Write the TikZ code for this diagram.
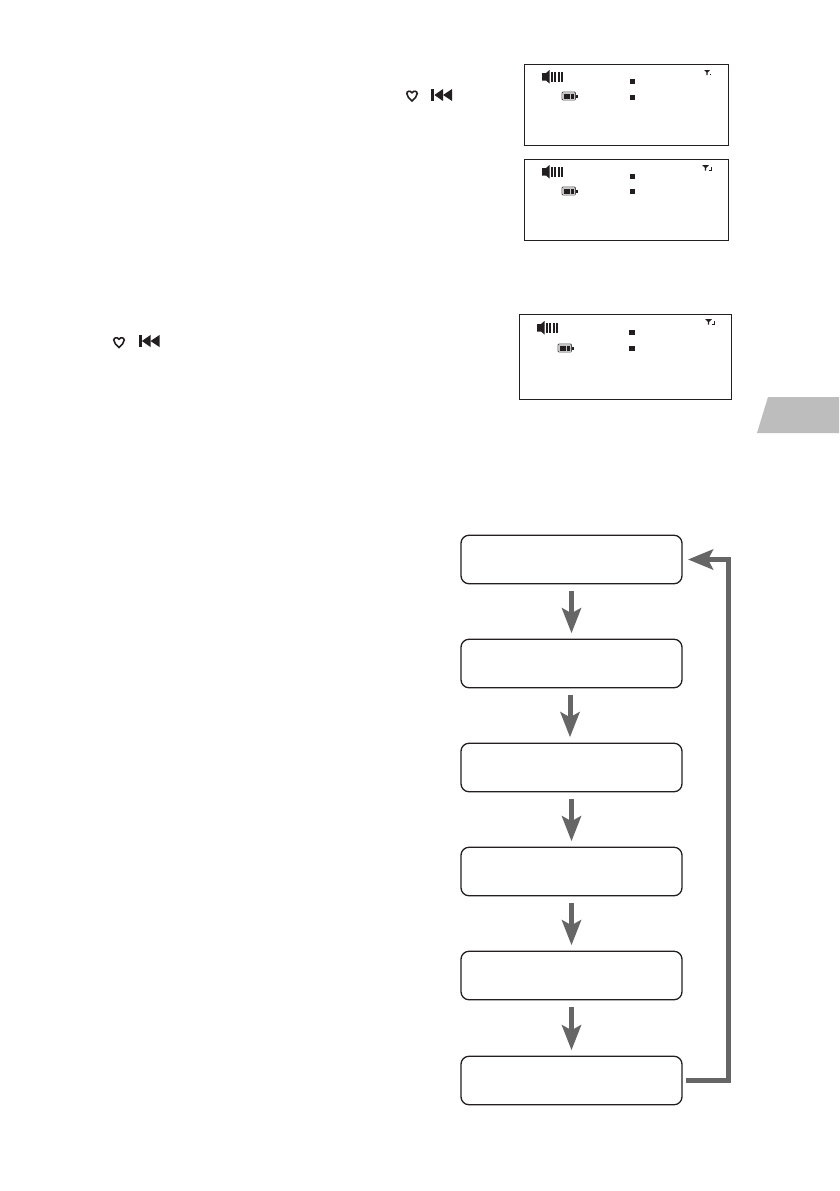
\documentclass[tikz,border=0pt]{standalone}
\usetikzlibrary{arrows.meta}
\definecolor{ink}{HTML}{231F20}
\definecolor{arrowgrey}{HTML}{666666}
\definecolor{tabgrey}{HTML}{BDBDBD}
\tikzset{
  screen/.style={draw=ink,line width=1.2pt,fill=white,inner sep=0pt,minimum width=#1},
  flowbox/.style={draw=ink,line width=1.3pt,rounded corners=8pt,fill=white,inner sep=0pt,outer sep=0pt,minimum width=221pt,minimum height=48.5pt},
  flowarrow/.style={draw=arrowgrey,line width=5pt,-{Stealth[length=25pt,width=19pt,inset=5pt]},shorten <=7pt,shorten >=6pt},
  returnarrow/.style={draw=arrowgrey,line width=5pt,-{Stealth[length=25pt,width=20pt,inset=5pt]},shorten <=4pt,shorten >=6pt},
  lcdsquare/.style={fill=ink,draw=none,inner sep=0pt,outer sep=0pt,minimum size=5.4pt},
  pics/speaker/.style={code={
    \fill[ink] (0,3) -- (4,3) -- (7.5,0) -- (7.5,13.5) -- (4,10.5) -- (0,10.5) -- cycle;
    \foreach \bx in {9,12.3,15.6,18.9}{\fill[ink] (\bx,1.5) rectangle ++(2,10.5);}
  }},
  pics/battery/.style={code={
    \draw[ink!80,line width=.9pt,rounded corners=1pt] (0,0) rectangle (13.5,8);
    \fill[ink!25] (.5,.5) rectangle (13,7.5);
    \foreach \bx in {1.6,5.2,8.8}{\fill[ink] (\bx,1.5) rectangle ++(3,5);}
    \fill[ink] (13.5,2.5) rectangle (16,5.5);
  }},
  pics/antenna/.style={code={
    \fill[ink] (0,0) -- (7,0) -- (4.2,2.8) -- (4.2,5.5) -- (2.8,5.5) -- (2.8,2.8) -- cycle;
    \draw[ink,line width=1pt] (6.5,5) -- (9.5,5) -- (9.5,2);
  }},
  pics/antennasmall/.style={code={
    \fill[ink] (0,0) -- (6,0) -- (3.6,2.4) -- (3.6,5) -- (2.4,5) -- (2.4,2.4) -- cycle;
    \fill[ink] (6,3.6) rectangle ++(1,1);
  }},
  pics/hearticon/.style={code={
    \draw[ink,line width=1.6pt] (6,11) .. controls (3.3,8.4) and (.8,6.4) .. (.8,3.6)
      .. controls (.8,1) and (4.4,.2) .. (6,2.8)
      .. controls (7.6,.2) and (11.2,1) .. (11.2,3.6)
      .. controls (11.2,6.4) and (8.7,8.4) .. (6,11) -- cycle;
  }},
  pics/rewindicon/.style={code={
    \fill[ink] (0,0) rectangle (3.4,12);
    \fill[ink] (3.4,6) -- (12,0) -- (12,12) -- cycle;
    \fill[ink] (12,6) -- (21,0) -- (21,12) -- cycle;
  }},
}
\begin{document}
\begin{tikzpicture}[x=1pt,y=-1pt]
\useasboundingbox[fill=white] (0,0) rectangle (839,1191);
% side tab
\fill[tabgrey] (768,397) -- (839,397) -- (839,433) -- (757,433) -- cycle;
% button icons
\pic at (406,90) {hearticon};
\pic at (431,89) {rewindicon};
\pic at (113,336.5) {hearticon};
\pic at (138.5,335) {rewindicon};
% display 1
\node[screen=204pt,minimum height=81pt] (lcda) at (626.5,105) {};
\pic at (542,70) {speaker};
\pic at (562,92) {battery};
\node[lcdsquare] (sqa) at (632.5,81.5) {};
\node[lcdsquare] (sqb) at (632.5,97.5) {};
\pic at (704,70) {antennasmall};
% display 2
\node[screen=204pt,minimum height=81pt] (lcdb) at (626.5,200) {};
\pic at (542,165) {speaker};
\pic at (562,187) {battery};
\node[lcdsquare] (sqc) at (632.5,176.5) {};
\node[lcdsquare] (sqd) at (632.5,191.5) {};
\pic at (702,165) {antenna};
% display 3
\node[screen=212pt,minimum height=85pt] (lcdc) at (625.5,357) {};
\pic at (537,321) {speaker};
\pic at (558,344) {battery};
\node[lcdsquare] (sqe) at (632,332.5) {};
\node[lcdsquare] (sqf) at (632,348.5) {};
\pic at (705,319) {antenna};
% flow
\node[flowbox] (ba) at (571.5,559.5) {};
\node[flowbox] (bb) at (571.5,663.5) {};
\node[flowbox] (bc) at (571.5,767.5) {};
\node[flowbox] (bd) at (571.5,871.5) {};
\node[flowbox] (be) at (571.5,975.5) {};
\node[flowbox] (bf) at (571.5,1080.5) {};
\draw[flowarrow] (ba) -- (bb);
\draw[flowarrow] ([xshift=-1.5pt]bb.south) -- ([xshift=-1.5pt]bc.north);
\draw[flowarrow] (bc) -- (bd);
\draw[flowarrow] (bd) -- (be);
\draw[flowarrow] (be) -- (bf);
\coordinate (bend) at (728.5,800);
\draw[returnarrow] (bf.east) -| (bend) |- (ba.east);
\end{tikzpicture}
\end{document}
